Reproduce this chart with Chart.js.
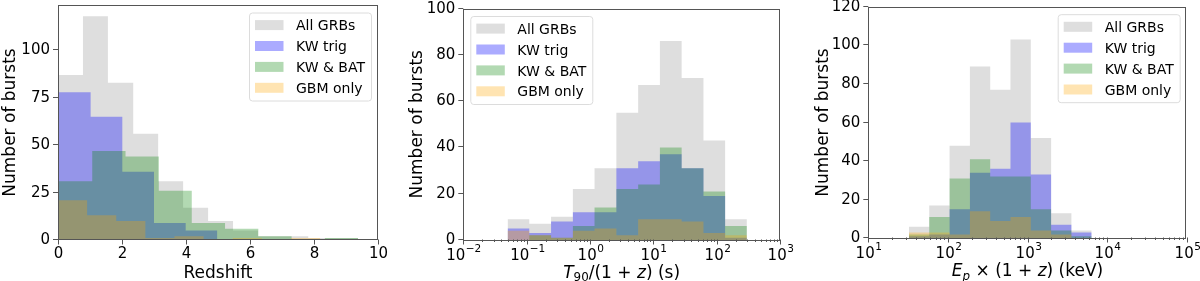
<!DOCTYPE html>
<html>
<head>
<meta charset="utf-8">
<script src="https://cdn.jsdelivr.net/npm/chart.js@4.4.0/dist/chart.umd.min.js"></script>
<style>
  body { margin: 0; background: #fff; width: 1200px; height: 281px; overflow: hidden; position: relative; }
  .panel { position: absolute; top: 0; width: 400px; height: 281px; }
</style>
</head>
<body>
<div class="panel" style="left:0px"><canvas id="redshiftChart" width="400" height="281"></canvas></div>
<div class="panel" style="left:400px"><canvas id="t90Chart" width="400" height="281"></canvas></div>
<div class="panel" style="left:800px"><canvas id="epChart" width="400" height="281"></canvas></div>
<script>
// series names (legend order)
const seriesNames = ['All GRBs', 'KW trig', 'KW & BAT', 'GBM only'];

// Redshift histograms (each sample has its own bins)
const zEdgesAll = [0, 0.78, 1.56, 2.35, 3.13, 3.91, 4.69, 5.47, 6.25, 7.04, 7.82, 8.6, 9.38];
const zCountsAll = [87, 118, 83, 56, 31, 17, 10, 5, 2, 2, 1, 1];
const zEdgesKW = [0.03, 1.02, 2.01, 3.0, 3.99, 4.98];
const zCountsKW = [78, 65, 36, 9, 5];
const zEdgesBAT = [0.03, 1.07, 2.11, 3.15, 4.18, 5.22, 6.26, 7.3, 8.34, 9.38];
const zCountsBAT = [31, 47, 44, 26, 9, 6, 2, 0, 1];
const zEdgesGBM = [0, 0.91, 1.82, 2.73, 3.64, 4.55, 5.46, 6.37, 7.28, 8.19, 9.1];
const zCountsGBM = [21, 13, 10, 1, 2, 0, 1, 0, 1, 0];

// T90/(1+z) histograms (shared bins, seconds)
const t90Edges = [0.05, 0.11, 0.243, 0.537, 1.18, 2.61, 5.76, 12.7, 28.0, 61.9, 136, 300];
const t90All = [9, 7, 10, 22, 31, 55, 67, 86, 70, 43, 9];
const t90KW = [5, 3, 8, 12, 12, 31, 34, 37, 31, 19, 1];
const t90BAT = [0, 2, 1, 6, 14, 22, 24, 40, 31, 21, 6];
const t90GBM = [4, 2, 1, 4, 5, 2, 9, 9, 8, 3, 2];

// Ep x (1+z) histograms (shared bins, keV)
const epEdges = [32.4, 58.3, 105, 189, 340, 611, 1100, 1980, 3560, 6400];
const epAll = [6, 17, 48, 89, 77, 103, 52, 13, 4];
const epKW = [1, 2, 15, 34, 36, 60, 33, 7, 3];
const epBAT = [2, 11, 31, 41, 32, 32, 15, 4, 1];
const epGBM = [3, 3, 2, 14, 9, 11, 4, 2, 0];

// tick labels
const zTicks = [0, 2, 4, 6, 8, 10];
const countTicksZ = [0, 25, 50, 75, 100];
const countTicksT90 = [0, 20, 40, 60, 80, 100];
const countTicksEp = [0, 20, 40, 60, 80, 100, 120];

const fillColors = ['rgba(128,128,128,0.26)', 'rgba(0,0,255,0.33)', 'rgba(0,128,0,0.3)', 'rgba(255,165,0,0.3)'];
const FONT = '"DejaVu Sans", sans-serif';
const AXIS_COLOR = '#555';

function histPoints(edges, counts) {
  const pts = counts.map((c, i) => ({ x: edges[i], y: c }));
  pts.push({ x: edges[edges.length - 1], y: 0 });
  return pts;
}

function drawRich(ctx, segs, cx, baseY, size) {
  // measure then draw mathtext-like segments centred on cx
  const parts = segs.map(s => {
    const sz = s.sub ? size * 0.7 : size;
    const font = (s.it ? 'italic ' : '') + sz + 'px ' + FONT;
    ctx.font = font;
    return { t: s.t, font: font, w: ctx.measureText(s.t).width, dy: s.sub ? size * 0.22 : 0 };
  });
  let x = cx - parts.reduce((a, p) => a + p.w, 0) / 2;
  ctx.textAlign = 'left';
  ctx.textBaseline = 'alphabetic';
  parts.forEach(p => {
    ctx.font = p.font;
    ctx.fillText(p.t, x, baseY + p.dy);
    x += p.w;
  });
}

const axesDecor = {
  id: 'axesDecor',
  afterDraw(chart, args, o) {
    const ctx = chart.ctx, a = chart.chartArea;
    const xs = chart.scales.x, ys = chart.scales.y;
    ctx.save();
    ctx.strokeStyle = AXIS_COLOR;
    ctx.fillStyle = '#000';
    ctx.lineWidth = 1;
    // frame
    ctx.strokeRect(Math.round(a.left) + 0.5, Math.round(a.top) + 0.5,
      Math.round(a.right - a.left) - 1, Math.round(a.bottom - a.top) - 1);

    // y ticks
    ctx.font = '15px ' + FONT;
    ctx.textAlign = 'right';
    ctx.textBaseline = 'middle';
    o.yTicks.forEach(v => {
      const py = Math.round(ys.getPixelForValue(v)) - 0.5;
      ctx.beginPath(); ctx.moveTo(a.left - 5, py); ctx.lineTo(a.left, py); ctx.stroke();
      ctx.fillText(String(v), a.left - 8, py + 0.5);
    });

    // x ticks
    const yb = Math.round(a.bottom) - 0.5;
    if (o.log) {
      const k0 = Math.round(Math.log10(xs.min)), k1 = Math.round(Math.log10(xs.max));
      for (let k = k0; k <= k1; k++) {
        const px = Math.round(xs.getPixelForValue(Math.pow(10, k))) + 0.5;
        ctx.beginPath(); ctx.moveTo(px, yb); ctx.lineTo(px, yb + 5); ctx.stroke();
        const sup = k < 0 ? '\u2212' + (-k) : String(k);
        ctx.font = '15px ' + FONT;
        const wb = ctx.measureText('10').width;
        ctx.font = '10.5px ' + FONT;
        const ws = ctx.measureText(sup).width;
        const x0 = px - (wb + ws) / 2;
        ctx.textAlign = 'left';
        ctx.textBaseline = 'alphabetic';
        ctx.font = '15px ' + FONT;
        ctx.fillText('10', x0, a.bottom + 19.5);
        ctx.font = '10.5px ' + FONT;
        ctx.fillText(sup, x0 + wb + 0.5, a.bottom + 12);
        if (k < k1) {
          for (let m = 2; m <= 9; m++) {
            const mx = Math.round(xs.getPixelForValue(m * Math.pow(10, k))) + 0.5;
            ctx.beginPath(); ctx.moveTo(mx, yb); ctx.lineTo(mx, yb + 2.5); ctx.stroke();
          }
        }
      }
    } else {
      ctx.font = '15px ' + FONT;
      ctx.textAlign = 'center';
      ctx.textBaseline = 'alphabetic';
      o.xTicks.forEach(v => {
        const px = Math.round(xs.getPixelForValue(v)) + 0.5;
        ctx.beginPath(); ctx.moveTo(px, yb); ctx.lineTo(px, yb + 5); ctx.stroke();
        ctx.fillText(String(v), px, a.bottom + 18);
      });
    }

    // axis titles
    drawRich(ctx, o.xTitle, (a.left + a.right) / 2, a.bottom + 37.5, 17);
    ctx.save();
    ctx.translate(o.yTitleX, (a.top + a.bottom) / 2);
    ctx.rotate(-Math.PI / 2);
    ctx.font = '17px ' + FONT;
    ctx.textAlign = 'center';
    ctx.textBaseline = 'alphabetic';
    ctx.fillText('Number of bursts', 0, 0);
    ctx.restore();

    // legend box
    const lw = 122, lh = 88;
    const lx = o.legendLeft ? a.left + 7 : a.right - 7 - lw;
    const ly = a.top + 7.5;
    ctx.beginPath();
    ctx.roundRect(lx + 0.5, ly + 0.5, lw, lh, 3);
    ctx.fillStyle = 'rgba(255,255,255,0.8)';
    ctx.fill();
    ctx.strokeStyle = '#dcdcdc';
    ctx.stroke();
    ctx.font = '14px ' + FONT;
    ctx.textAlign = 'left';
    ctx.textBaseline = 'alphabetic';
    chart.data.datasets.forEach((ds, i) => {
      const cy = ly + 12.6 + i * 20.9;
      ctx.fillStyle = ds.backgroundColor;
      ctx.fillRect(lx + 6, cy - 5, 28.5, 10);
      ctx.fillStyle = '#000';
      ctx.fillText(ds.label, lx + 47, cy + 5.1);
    });
    ctx.restore();
  }
};

function makePanel(id, cfg) {
  const datasets = cfg.series.map((s, i) => ({
    label: seriesNames[i],
    data: histPoints(s[0], s[1]),
    backgroundColor: fillColors[i],
    borderWidth: 0,
    pointRadius: 0,
    stepped: true,
    fill: 'origin',
    order: 4 - i
  }));
  const a = cfg.area;
  new Chart(document.getElementById(id), {
    type: 'line',
    data: { datasets: datasets },
    options: {
      responsive: false,
      animation: false,
      events: [],
      layout: { padding: { left: a.left, top: a.top, right: 400 - a.right, bottom: 281 - a.bottom } },
      scales: {
        x: { type: cfg.log ? 'logarithmic' : 'linear', min: cfg.xMin, max: cfg.xMax, display: false },
        y: { type: 'linear', min: 0, max: cfg.yMax, display: false }
      },
      plugins: {
        legend: { display: false },
        tooltip: { enabled: false },
        axesDecor: cfg
      }
    },
    plugins: [axesDecor]
  });
}

makePanel('redshiftChart', {
  series: [[zEdgesAll, zCountsAll], [zEdgesKW, zCountsKW], [zEdgesBAT, zCountsBAT], [zEdgesGBM, zCountsGBM]],
  area: { left: 58, right: 378, top: 5, bottom: 240 },
  log: false, xMin: 0, xMax: 10, yMax: 124,
  xTicks: zTicks, yTicks: countTicksZ,
  xTitle: [{ t: 'Redshift' }],
  yTitleX: 14.5, legendLeft: false
});

makePanel('t90Chart', {
  series: [[t90Edges, t90All], [t90Edges, t90KW], [t90Edges, t90BAT], [t90Edges, t90GBM]],
  area: { left: 63.3, right: 380, top: 8.5, bottom: 240 },
  log: true, xMin: 0.01, xMax: 1000, yMax: 100,
  yTicks: countTicksT90,
  xTitle: [{ t: 'T', it: true }, { t: '90', sub: true }, { t: '/(1 + ' }, { t: 'z', it: true }, { t: ') (s)' }],
  yTitleX: 21.5, legendLeft: true
});

makePanel('epChart', {
  series: [[epEdges, epAll], [epEdges, epKW], [epEdges, epBAT], [epEdges, epGBM]],
  area: { left: 68.3, right: 386.7, top: 6.7, bottom: 238.3 },
  log: true, xMin: 10, xMax: 100000, yMax: 120,
  yTicks: countTicksEp,
  xTitle: [{ t: 'E', it: true }, { t: 'p', it: true, sub: true }, { t: ' \u00d7 (1 + ' }, { t: 'z', it: true }, { t: ') (keV)' }],
  yTitleX: 28, legendLeft: false
});
</script>
</body>
</html>
